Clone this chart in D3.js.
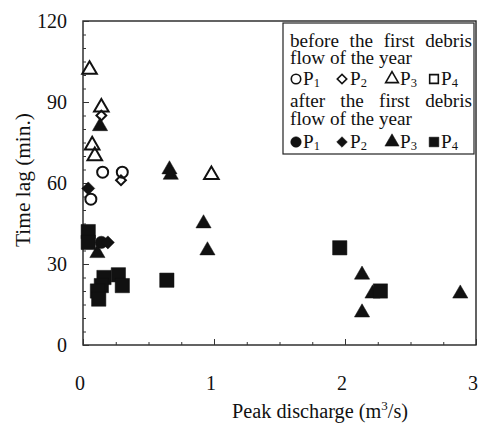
<!DOCTYPE html>
<html>
<head>
<meta charset="utf-8">
<script src="https://cdn.jsdelivr.net/npm/d3@7"></script>
<style>
  html, body { margin: 0; padding: 0; background: #fff; }
  svg { display: block; }
  text { font-family: "Liberation Serif", "Times New Roman", serif; fill: #111; }
</style>
</head>
<body>
<script>
// Peak discharge (m3/s) and time lag (min.) per gauge, split by season phase.
// Open markers: before the first debris flow of the year.
const beforeP1Q = [0.15, 0.30, 0.06];
const beforeP1T = [64, 64, 54];
const beforeP2Q = [0.29, 0.14];
const beforeP2T = [61, 85];
const beforeP3Q = [0.05, 0.14, 0.07, 0.09, 0.98];
const beforeP3T = [102, 88, 74, 70, 63];
const beforeP4Q = [];
const beforeP4T = [];

// Filled markers: after the first debris flow of the year.
const afterP1Q = [0.14];
const afterP1T = [38];
const afterP2Q = [0.04, 0.19];
const afterP2T = [58, 38];
const afterP3Q = [0.13, 0.66, 0.67, 0.92, 0.95, 0.11, 2.13, 2.13, 2.21, 2.88];
const afterP3T = [81, 65, 63, 45, 35, 34, 26, 12, 19, 19];
const afterP4Q = [0.04, 0.04, 0.16, 0.27, 0.30, 0.14, 0.11, 0.12, 0.64, 1.96, 2.27];
const afterP4T = [42, 38, 25, 26, 22, 22, 20, 17, 24, 36, 20];

const xTicks = [0, 1, 2, 3];
const yTicks = [0, 30, 60, 90, 120];

const W = 478, H = 424;
const plot = { left: 83, right: 476, top: 21, bottom: 345 };

const svg = d3.select("body").append("svg").attr("width", W).attr("height", H);

const x = d3.scaleLinear().domain([0, 3]).range([plot.left, plot.right]);
const y = d3.scaleLinear().domain([0, 120]).range([plot.bottom, plot.top]);

// Scale a text's font so that it spans the wanted width
function fitFont(sel, base, width) {
  sel.attr("font-size", base);
  const w = sel.node().getComputedTextLength();
  const size = base * width / w;
  sel.attr("font-size", size);
  return size;
}

// Frame
svg.append("rect")
  .attr("x", plot.left).attr("y", plot.top)
  .attr("width", plot.right - plot.left).attr("height", plot.bottom - plot.top)
  .attr("fill", "none").attr("stroke", "#222").attr("stroke-width", 1.4);

// Inward ticks: minor marks first, then the longer majors
const gx = svg.append("g").attr("transform", `translate(0,${plot.bottom})`);
gx.call(d3.axisBottom(x).tickValues(d3.range(0, 3.001, 0.25)).tickSize(-3).tickFormat(""));
gx.append("g").call(d3.axisBottom(x).tickValues(xTicks).tickSize(-6).tickFormat(""));
gx.selectAll(".domain").remove();
gx.selectAll("line").attr("stroke", "#333").attr("stroke-width", 1);

const gy = svg.append("g").attr("transform", `translate(${plot.left},0)`);
gy.call(d3.axisLeft(y).tickValues(d3.range(0, 120.001, 5)).tickSize(-3).tickFormat(""));
gy.append("g").call(d3.axisLeft(y).tickValues(yTicks).tickSize(-6).tickFormat(""));
gy.selectAll(".domain").remove();
gy.selectAll("line").attr("stroke", "#333").attr("stroke-width", 1);

// Tick labels
svg.append("g").selectAll("text").data(xTicks).join("text")
  .attr("x", d => x(d) - 3).attr("y", 390)
  .attr("text-anchor", "middle").attr("font-size", 20)
  .text(d => d);
svg.append("g").selectAll("text").data(yTicks).join("text")
  .attr("x", 67).attr("y", d => y(d) + 7)
  .attr("text-anchor", "end").attr("font-size", 20)
  .text(d => d);

// Axis titles
const xt = svg.append("text").attr("x", 320).attr("y", 418)
  .attr("text-anchor", "middle").attr("font-size", 21);
xt.append("tspan").text("Peak discharge (m");
xt.append("tspan").attr("font-size", 13).attr("dy", -8).text("3");
xt.append("tspan").attr("dy", 8).text("/s)");
fitFont(xt, 21, 176);

const yt = svg.append("text")
  .attr("transform", "translate(30,180) rotate(-90)")
  .attr("text-anchor", "middle")
  .text("Time lag (min.)");
fitFont(yt, 22, 134);

// Marker shapes
const shapes = {
  P1: { type: d3.symbolCircle, rot: 0, open: 95, filled: 120 },
  P2: { type: d3.symbolSquare, rot: 45, open: 48, filled: 85 },
  P3: { type: d3.symbolTriangle, rot: 0, open: 92, filled: 100 },
  P4: { type: d3.symbolSquare, rot: 0, open: 150, filled: 205 }
};

function drawSeries(qs, ts, key, filled) {
  const s = shapes[key];
  const pts = qs.map((q, i) => ({ q, t: ts[i] }));
  svg.append("g").selectAll("path").data(pts).join("path")
    .attr("d", d3.symbol().type(s.type).size(filled ? s.filled : s.open))
    .attr("transform", d => `translate(${x(d.q)},${y(d.t)}) rotate(${s.rot})`)
    .attr("fill", filled ? "#111" : "none")
    .attr("stroke", "#111")
    .attr("stroke-width", filled ? 0.5 : 2);
}

drawSeries(beforeP1Q, beforeP1T, "P1", false);
drawSeries(beforeP2Q, beforeP2T, "P2", false);
drawSeries(beforeP3Q, beforeP3T, "P3", false);
drawSeries(beforeP4Q, beforeP4T, "P4", false);
drawSeries(afterP1Q, afterP1T, "P1", true);
drawSeries(afterP2Q, afterP2T, "P2", true);
drawSeries(afterP3Q, afterP3T, "P3", true);
drawSeries(afterP4Q, afterP4T, "P4", true);

// Legend
const lg = svg.append("g");
lg.append("rect").attr("x", 283).attr("y", 23).attr("width", 191).attr("height", 131)
  .attr("fill", "#fff").attr("stroke", "#222").attr("stroke-width", 1.2);

const lineLeft = 290, lineRight = 472;
// size the legend type from its short line
const probe = lg.append("text").attr("x", lineLeft).attr("y", 64).text("flow of the year");
const legendFont = fitFont(probe, 18, 122);
lg.append("text").attr("x", lineLeft).attr("y", 125).attr("font-size", legendFont).text("flow of the year");

// justified lines: one text per word, spread across the box
[{ words: ["before", "the", "first", "debris"], y: 47 },
 { words: ["after", "the", "first", "debris"], y: 107 }].forEach(l => {
  const ts = l.words.map(w => lg.append("text").attr("y", l.y).attr("font-size", legendFont).text(w));
  const widths = ts.map(t => t.node().getComputedTextLength());
  const gap = (lineRight - lineLeft - d3.sum(widths)) / (l.words.length - 1);
  let cx = lineLeft;
  ts.forEach((t, i) => { t.attr("x", cx); cx += widths[i] + gap; });
});

const legendKeys = [
  { key: "P1", label: "1", sx: 296, tx: 303 },
  { key: "P2", label: "2", sx: 342, tx: 350 },
  { key: "P3", label: "3", sx: 392, tx: 400 },
  { key: "P4", label: "4", sx: 434, tx: 441 }
];
const legendSize = { P1: 70, P2: 45, P3: 70, P4: 75 };
[{ yb: 85, filled: false }, { yb: 148, filled: true }].forEach(row => {
  legendKeys.forEach(k => {
    const s = shapes[k.key];
    lg.append("path")
      .attr("d", d3.symbol().type(s.type).size(legendSize[k.key] * (row.filled ? 1.25 : 1)))
      .attr("transform", `translate(${k.sx},${row.yb - 6}) rotate(${s.rot})`)
      .attr("fill", row.filled ? "#111" : "none")
      .attr("stroke", "#111").attr("stroke-width", row.filled ? 0.5 : 1.6);
    const t = lg.append("text").attr("x", k.tx).attr("y", row.yb).attr("font-size", legendFont);
    t.append("tspan").text("P");
    t.append("tspan").attr("font-size", legendFont * 0.65).attr("dy", 2).text(k.label);
  });
});
</script>
</body>
</html>
